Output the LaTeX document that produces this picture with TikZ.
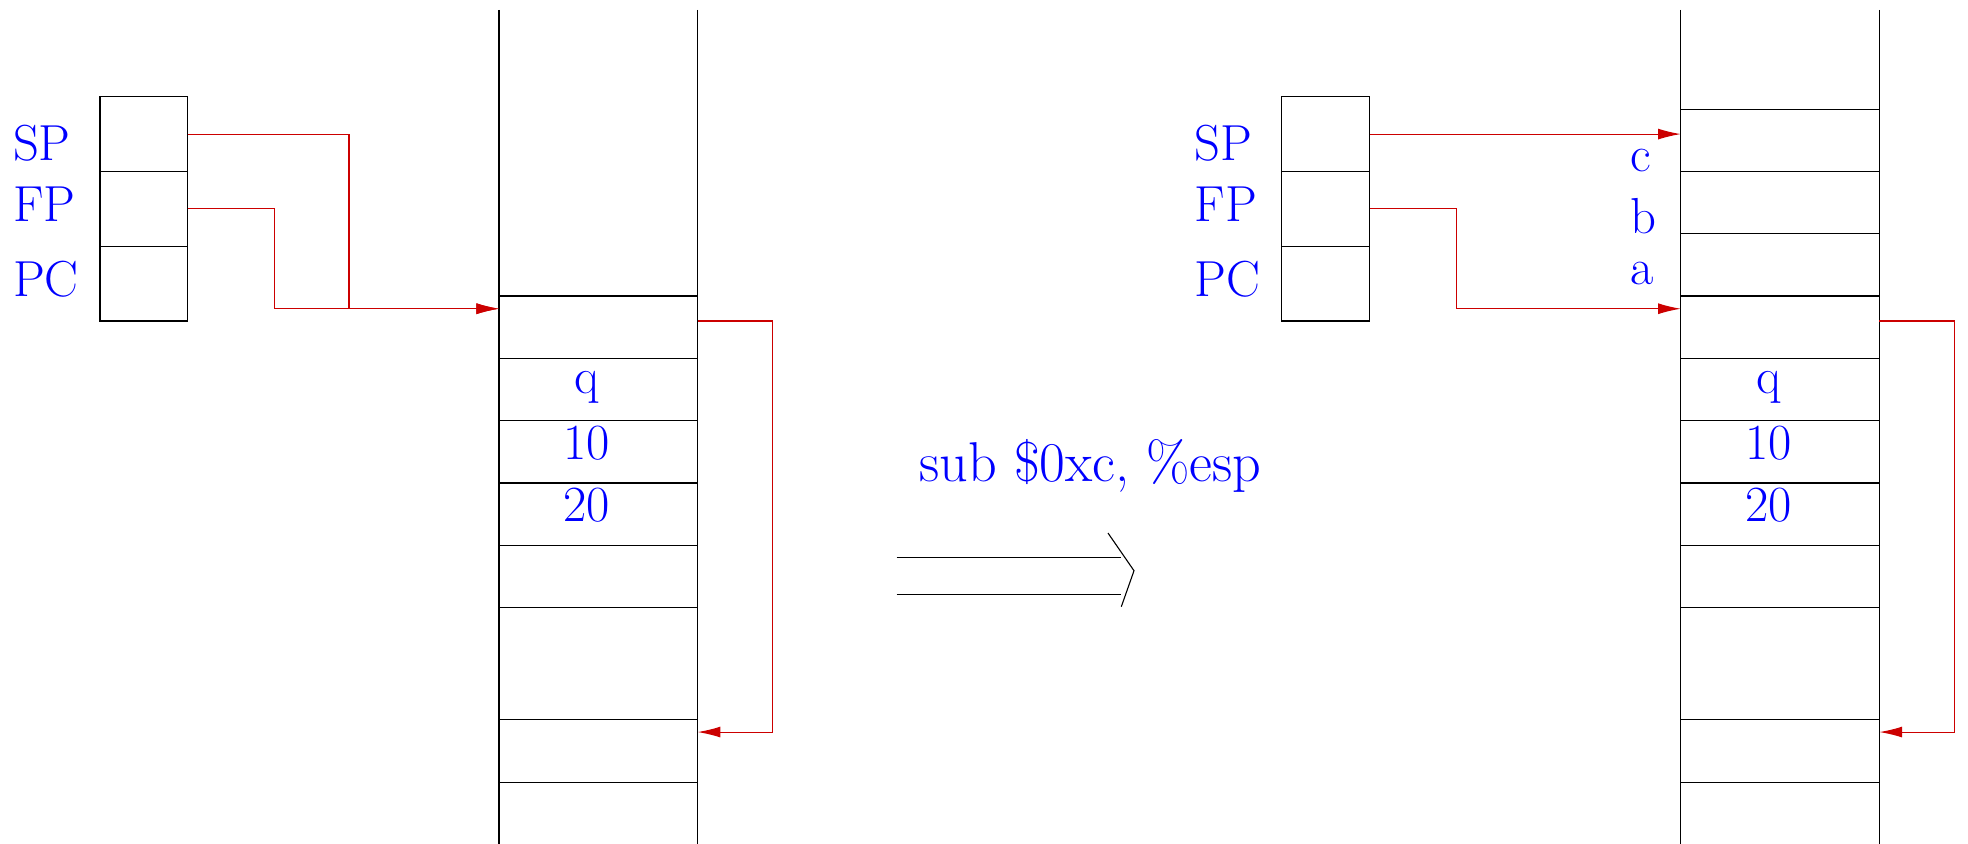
\documentclass[tikz,border=0pt]{standalone}
\usepackage{xcolor}
\usepackage{tikz}
\usetikzlibrary{arrows.meta,positioning}
\tikzset{
  regbox/.style={draw, minimum width=1.126cm, minimum height=0.96cm, inner sep=0pt, outer sep=0pt},
  cellbox/.style={draw, minimum width=2.55cm, minimum height=0.8cm, inner sep=0pt, outer sep=0pt},
  gapbox/.style={cellbox, minimum height=1.44cm},
  tag/.style={text=blue, inner sep=0pt, font=\fontsize{18.5}{22}\selectfont},
  ptr/.style={-{Latex[length=2.9mm,width=1.4mm]}, red!80!black}
}

\begin{document}
\begin{tikzpicture}
\useasboundingbox (0,0) rectangle (25.263,-10.834);

% before
\node[regbox] (sp) at (1.847,-1.721) {};
\node[regbox, below=0pt of sp] (fp) {};
\node[regbox, below=0pt of fp] (pc) {};
\node[tag, anchor=base west] (sptag) at (0.16,-2.054) {SP};
\node[tag, anchor=base west] (fptag) at (0.16,-2.846) {FP};
\node[tag, anchor=base west] (pctag) at (0.16,-3.80) {PC};

\draw (6.406,-0.128) -- (6.406,-10.834);
\draw (8.956,-0.128) -- (8.956,-10.834);
\node[cellbox, anchor=north west] (l0) at (6.406,-3.8) {};
\node[cellbox, below=0pt of l0] (l1) {};
\node[cellbox, below=0pt of l1] (l2) {};
\node[cellbox, below=0pt of l2] (l3) {};
\node[cellbox, below=0pt of l3] (l4) {};
\node[gapbox, below=0pt of l4] (l5) {};
\node[cellbox, below=0pt of l5] (l6) {};
\node[tag, anchor=base] (lq) at ([xshift=-1.46mm,yshift=-4.5mm]l1.north) {q};
\node[tag, anchor=base] (lten) at ([xshift=-1.46mm,yshift=-4.92mm]l2.north) {10};
\node[tag, anchor=base] (ltwenty) at ([xshift=-1.46mm,yshift=-5.0mm]l3.north) {20};

\draw[ptr] (sp.east) -- ++(2.07,0) |- ([yshift=-1.63mm]l0.north west);
\draw[ptr] (fp.east) -- ++(1.111,0) |- ([yshift=-1.63mm]l0.north west);
\draw[ptr] ([yshift=0.8mm]l0.east) -- ++(0.963,0) |- ([yshift=-1.57mm]l6.north east);

% instruction
\node[tag, anchor=base, font=\fontsize{20.5}{24}\selectfont] (instr) at (14.0,-6.18) {sub \$0xc, \%esp};
\coordinate (from) at (11.51,-7.394);
\coordinate (to) at (14.387,-7.394);
\draw ([yshift=2.4mm]from) -- ([yshift=2.4mm]to);
\draw ([yshift=-2.4mm]from) -- ([yshift=-2.4mm]to);
\draw ([shift={(-0.164,0.552)}]to) -- ([shift={(0.17,0.068)}]to) -- ([shift={(0.007,-0.394)}]to);

% after
\node[regbox] (sp2) at (17.017,-1.721) {};
\node[regbox, below=0pt of sp2] (fp2) {};
\node[regbox, below=0pt of fp2] (pc2) {};
\node[tag, anchor=base west] (sptag2) at (15.33,-2.054) {SP};
\node[tag, anchor=base west] (fptag2) at (15.33,-2.846) {FP};
\node[tag, anchor=base west] (pctag2) at (15.33,-3.80) {PC};

\draw (21.576,-0.128) -- (21.576,-10.834);
\draw (24.126,-0.128) -- (24.126,-10.834);
\node[cellbox, anchor=north west] (rc) at (21.576,-1.4) {};
\node[cellbox, below=0pt of rc] (rb) {};
\node[cellbox, below=0pt of rb] (ra) {};
\node[cellbox, below=0pt of ra] (r0) {};
\node[cellbox, below=0pt of r0] (r1) {};
\node[cellbox, below=0pt of r1] (r2) {};
\node[cellbox, below=0pt of r2] (r3) {};
\node[cellbox, below=0pt of r3] (r4) {};
\node[gapbox, below=0pt of r4] (r5) {};
\node[cellbox, below=0pt of r5] (r6) {};
\node[tag, anchor=base west] (ctag) at (20.92,-2.20) {c};
\node[tag, anchor=base west] (btag) at (20.92,-2.997) {b};
\node[tag, anchor=base west] (atag) at (20.92,-3.646) {a};
\node[tag, anchor=base] (rq) at ([xshift=-1.46mm,yshift=-4.5mm]r1.north) {q};
\node[tag, anchor=base] (rten) at ([xshift=-1.46mm,yshift=-4.92mm]r2.north) {10};
\node[tag, anchor=base] (rtwenty) at ([xshift=-1.46mm,yshift=-5.0mm]r3.north) {20};

\draw[ptr] (sp2.east) -- (sp2.east -| rc.west);
\draw[ptr] (fp2.east) -- ++(1.111,0) |- ([yshift=-1.63mm]r0.north west);
\draw[ptr] ([yshift=0.8mm]r0.east) -- ++(0.963,0) |- ([yshift=-1.57mm]r6.north east);
\end{tikzpicture}
\end{document}
